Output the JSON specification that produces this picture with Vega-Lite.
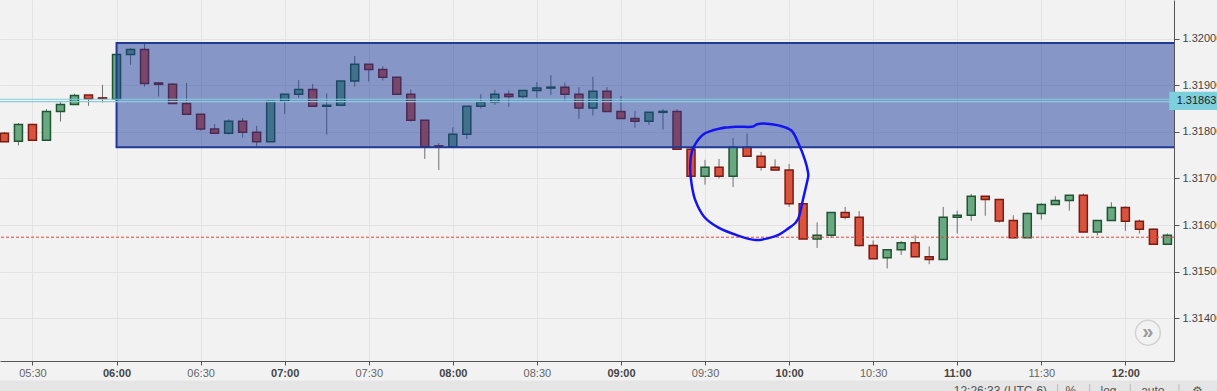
{
  "$schema": "https://vega.github.io/schema/vega-lite/v6.json",
  "width": 1174,
  "height": 361,
  "autosize": {"type": "none"},
  "padding": {"left": 0, "top": 0, "right": 43, "bottom": 30},
  "background": "#f2f2f2",
  "config": {
    "view": {"stroke": null},
    "font": "Liberation Sans",
    "axis": {"gridColor": "#e3e3e3", "gridWidth": 1, "domainColor": "#555555", "tickColor": "#555555", "labelColor": "#555555", "labelFontSize": 11, "title": null}
  },
  "layer": [
    {
      "data": {
        "values": [
          {"t": "2020-01-01T05:20:00Z", "o": 1.31797, "h": 1.31800, "l": 1.31779, "c": 1.31779},
          {"t": "2020-01-01T05:25:00Z", "o": 1.31780, "h": 1.31819, "l": 1.31771, "c": 1.31816},
          {"t": "2020-01-01T05:30:00Z", "o": 1.31816, "h": 1.31816, "l": 1.31782, "c": 1.31782},
          {"t": "2020-01-01T05:35:00Z", "o": 1.31782, "h": 1.31849, "l": 1.31782, "c": 1.31844},
          {"t": "2020-01-01T05:40:00Z", "o": 1.31844, "h": 1.31864, "l": 1.31822, "c": 1.31859},
          {"t": "2020-01-01T05:45:00Z", "o": 1.31859, "h": 1.31882, "l": 1.31859, "c": 1.31878},
          {"t": "2020-01-01T05:50:00Z", "o": 1.31879, "h": 1.31879, "l": 1.31856, "c": 1.31871},
          {"t": "2020-01-01T05:55:00Z", "o": 1.31873, "h": 1.31901, "l": 1.31863, "c": 1.31872},
          {"t": "2020-01-01T06:00:00Z", "o": 1.31870, "h": 1.31966, "l": 1.31870, "c": 1.31966},
          {"t": "2020-01-01T06:05:00Z", "o": 1.31966, "h": 1.31980, "l": 1.31944, "c": 1.31977},
          {"t": "2020-01-01T06:10:00Z", "o": 1.31977, "h": 1.31990, "l": 1.31897, "c": 1.31904},
          {"t": "2020-01-01T06:15:00Z", "o": 1.31905, "h": 1.31907, "l": 1.31876, "c": 1.31902},
          {"t": "2020-01-01T06:20:00Z", "o": 1.31902, "h": 1.31905, "l": 1.31861, "c": 1.31861},
          {"t": "2020-01-01T06:25:00Z", "o": 1.31861, "h": 1.31905, "l": 1.31838, "c": 1.31838},
          {"t": "2020-01-01T06:30:00Z", "o": 1.31838, "h": 1.31838, "l": 1.31803, "c": 1.31806},
          {"t": "2020-01-01T06:35:00Z", "o": 1.31806, "h": 1.31817, "l": 1.31797, "c": 1.31797},
          {"t": "2020-01-01T06:40:00Z", "o": 1.31797, "h": 1.31827, "l": 1.31794, "c": 1.31823},
          {"t": "2020-01-01T06:45:00Z", "o": 1.31823, "h": 1.31830, "l": 1.31788, "c": 1.31799},
          {"t": "2020-01-01T06:50:00Z", "o": 1.31799, "h": 1.31813, "l": 1.31768, "c": 1.31779},
          {"t": "2020-01-01T06:55:00Z", "o": 1.31779, "h": 1.31865, "l": 1.31779, "c": 1.31865},
          {"t": "2020-01-01T07:00:00Z", "o": 1.31866, "h": 1.31881, "l": 1.31838, "c": 1.31881},
          {"t": "2020-01-01T07:05:00Z", "o": 1.31881, "h": 1.31911, "l": 1.31873, "c": 1.31891},
          {"t": "2020-01-01T07:10:00Z", "o": 1.31891, "h": 1.31903, "l": 1.31855, "c": 1.31855},
          {"t": "2020-01-01T07:15:00Z", "o": 1.31855, "h": 1.31883, "l": 1.31794, "c": 1.31857},
          {"t": "2020-01-01T07:20:00Z", "o": 1.31857, "h": 1.31909, "l": 1.31857, "c": 1.31909},
          {"t": "2020-01-01T07:25:00Z", "o": 1.31909, "h": 1.31963, "l": 1.31897, "c": 1.31945},
          {"t": "2020-01-01T07:30:00Z", "o": 1.31945, "h": 1.31945, "l": 1.31908, "c": 1.31934},
          {"t": "2020-01-01T07:35:00Z", "o": 1.31934, "h": 1.31941, "l": 1.31910, "c": 1.31917},
          {"t": "2020-01-01T07:40:00Z", "o": 1.31917, "h": 1.31917, "l": 1.31881, "c": 1.31881},
          {"t": "2020-01-01T07:45:00Z", "o": 1.31881, "h": 1.31891, "l": 1.31822, "c": 1.31825},
          {"t": "2020-01-01T07:50:00Z", "o": 1.31825, "h": 1.31825, "l": 1.31742, "c": 1.31768},
          {"t": "2020-01-01T07:55:00Z", "o": 1.31770, "h": 1.31776, "l": 1.31718, "c": 1.31767},
          {"t": "2020-01-01T08:00:00Z", "o": 1.31768, "h": 1.31810, "l": 1.31768, "c": 1.31795},
          {"t": "2020-01-01T08:05:00Z", "o": 1.31795, "h": 1.31855, "l": 1.31785, "c": 1.31855},
          {"t": "2020-01-01T08:10:00Z", "o": 1.31855, "h": 1.31881, "l": 1.31850, "c": 1.31864},
          {"t": "2020-01-01T08:15:00Z", "o": 1.31864, "h": 1.31890, "l": 1.31858, "c": 1.31881},
          {"t": "2020-01-01T08:20:00Z", "o": 1.31881, "h": 1.31889, "l": 1.31854, "c": 1.31876},
          {"t": "2020-01-01T08:25:00Z", "o": 1.31876, "h": 1.31889, "l": 1.31872, "c": 1.31889},
          {"t": "2020-01-01T08:30:00Z", "o": 1.31889, "h": 1.31907, "l": 1.31873, "c": 1.31894},
          {"t": "2020-01-01T08:35:00Z", "o": 1.31894, "h": 1.31922, "l": 1.31879, "c": 1.31896},
          {"t": "2020-01-01T08:40:00Z", "o": 1.31896, "h": 1.31906, "l": 1.31867, "c": 1.31881},
          {"t": "2020-01-01T08:45:00Z", "o": 1.31881, "h": 1.31896, "l": 1.31828, "c": 1.31851},
          {"t": "2020-01-01T08:50:00Z", "o": 1.31851, "h": 1.31918, "l": 1.31835, "c": 1.31887},
          {"t": "2020-01-01T08:55:00Z", "o": 1.31887, "h": 1.31896, "l": 1.31844, "c": 1.31844},
          {"t": "2020-01-01T09:00:00Z", "o": 1.31844, "h": 1.31877, "l": 1.31829, "c": 1.31829},
          {"t": "2020-01-01T09:05:00Z", "o": 1.31829, "h": 1.31845, "l": 1.31809, "c": 1.31823},
          {"t": "2020-01-01T09:10:00Z", "o": 1.31823, "h": 1.31842, "l": 1.31815, "c": 1.31842},
          {"t": "2020-01-01T09:15:00Z", "o": 1.31842, "h": 1.31849, "l": 1.31805, "c": 1.31844},
          {"t": "2020-01-01T09:20:00Z", "o": 1.31844, "h": 1.31849, "l": 1.31763, "c": 1.31763},
          {"t": "2020-01-01T09:25:00Z", "o": 1.31763, "h": 1.31768, "l": 1.31705, "c": 1.31705},
          {"t": "2020-01-01T09:30:00Z", "o": 1.31705, "h": 1.31740, "l": 1.31687, "c": 1.31724},
          {"t": "2020-01-01T09:35:00Z", "o": 1.31724, "h": 1.31742, "l": 1.31700, "c": 1.31705},
          {"t": "2020-01-01T09:40:00Z", "o": 1.31705, "h": 1.31787, "l": 1.31682, "c": 1.31767},
          {"t": "2020-01-01T09:45:00Z", "o": 1.31767, "h": 1.31797, "l": 1.31748, "c": 1.31748},
          {"t": "2020-01-01T09:50:00Z", "o": 1.31748, "h": 1.31757, "l": 1.31717, "c": 1.31724},
          {"t": "2020-01-01T09:55:00Z", "o": 1.31724, "h": 1.31741, "l": 1.31718, "c": 1.31718},
          {"t": "2020-01-01T10:00:00Z", "o": 1.31718, "h": 1.31731, "l": 1.31639, "c": 1.31646},
          {"t": "2020-01-01T10:05:00Z", "o": 1.31646, "h": 1.31646, "l": 1.31570, "c": 1.31570},
          {"t": "2020-01-01T10:10:00Z", "o": 1.31570, "h": 1.31606, "l": 1.31551, "c": 1.31578},
          {"t": "2020-01-01T10:15:00Z", "o": 1.31578, "h": 1.31627, "l": 1.31572, "c": 1.31627},
          {"t": "2020-01-01T10:20:00Z", "o": 1.31627, "h": 1.31639, "l": 1.31612, "c": 1.31617},
          {"t": "2020-01-01T10:25:00Z", "o": 1.31617, "h": 1.31630, "l": 1.31554, "c": 1.31556},
          {"t": "2020-01-01T10:30:00Z", "o": 1.31556, "h": 1.31567, "l": 1.31528, "c": 1.31528},
          {"t": "2020-01-01T10:35:00Z", "o": 1.31530, "h": 1.31547, "l": 1.31507, "c": 1.31547},
          {"t": "2020-01-01T10:40:00Z", "o": 1.31547, "h": 1.31566, "l": 1.31536, "c": 1.31562},
          {"t": "2020-01-01T10:45:00Z", "o": 1.31562, "h": 1.31578, "l": 1.31532, "c": 1.31532},
          {"t": "2020-01-01T10:50:00Z", "o": 1.31532, "h": 1.31554, "l": 1.31516, "c": 1.31526},
          {"t": "2020-01-01T10:55:00Z", "o": 1.31526, "h": 1.31639, "l": 1.31526, "c": 1.31617},
          {"t": "2020-01-01T11:00:00Z", "o": 1.31617, "h": 1.31631, "l": 1.31582, "c": 1.31621},
          {"t": "2020-01-01T11:05:00Z", "o": 1.31621, "h": 1.31667, "l": 1.31609, "c": 1.31662},
          {"t": "2020-01-01T11:10:00Z", "o": 1.31662, "h": 1.31662, "l": 1.31620, "c": 1.31655},
          {"t": "2020-01-01T11:15:00Z", "o": 1.31655, "h": 1.31655, "l": 1.31605, "c": 1.31609},
          {"t": "2020-01-01T11:20:00Z", "o": 1.31610, "h": 1.31621, "l": 1.31571, "c": 1.31573},
          {"t": "2020-01-01T11:25:00Z", "o": 1.31573, "h": 1.31627, "l": 1.31573, "c": 1.31625},
          {"t": "2020-01-01T11:30:00Z", "o": 1.31625, "h": 1.31647, "l": 1.31612, "c": 1.31644},
          {"t": "2020-01-01T11:35:00Z", "o": 1.31644, "h": 1.31662, "l": 1.31644, "c": 1.31653},
          {"t": "2020-01-01T11:40:00Z", "o": 1.31653, "h": 1.31664, "l": 1.31631, "c": 1.31664},
          {"t": "2020-01-01T11:45:00Z", "o": 1.31664, "h": 1.31668, "l": 1.31585, "c": 1.31585},
          {"t": "2020-01-01T11:50:00Z", "o": 1.31585, "h": 1.31610, "l": 1.31578, "c": 1.31610},
          {"t": "2020-01-01T11:55:00Z", "o": 1.31610, "h": 1.31649, "l": 1.31610, "c": 1.31638},
          {"t": "2020-01-01T12:00:00Z", "o": 1.31638, "h": 1.31640, "l": 1.31588, "c": 1.31608},
          {"t": "2020-01-01T12:05:00Z", "o": 1.31608, "h": 1.31612, "l": 1.31582, "c": 1.31591},
          {"t": "2020-01-01T12:10:00Z", "o": 1.31591, "h": 1.31593, "l": 1.31559, "c": 1.31559},
          {"t": "2020-01-01T12:15:00Z", "o": 1.31559, "h": 1.31582, "l": 1.31559, "c": 1.31578}
        ]
      },
      "encoding": {
        "x": {
          "field": "t",
          "type": "temporal",
          "scale": {
            "type": "utc",
            "nice": false,
            "domain": [
              {"year": 2020, "month": 1, "date": 1, "hours": 5, "minutes": 20, "seconds": 12, "utc": true},
              {"year": 2020, "month": 1, "date": 1, "hours": 12, "minutes": 15, "seconds": 34, "utc": true}
            ]
          },
          "axis": {
            "orient": "bottom",
            "format": "%H:%M",
            "values": [
              {"year": 2020, "month": 1, "date": 1, "hours": 5, "minutes": 30, "utc": true},
              {"year": 2020, "month": 1, "date": 1, "hours": 6, "minutes": 0, "utc": true},
              {"year": 2020, "month": 1, "date": 1, "hours": 6, "minutes": 30, "utc": true},
              {"year": 2020, "month": 1, "date": 1, "hours": 7, "minutes": 0, "utc": true},
              {"year": 2020, "month": 1, "date": 1, "hours": 7, "minutes": 30, "utc": true},
              {"year": 2020, "month": 1, "date": 1, "hours": 8, "minutes": 0, "utc": true},
              {"year": 2020, "month": 1, "date": 1, "hours": 8, "minutes": 30, "utc": true},
              {"year": 2020, "month": 1, "date": 1, "hours": 9, "minutes": 0, "utc": true},
              {"year": 2020, "month": 1, "date": 1, "hours": 9, "minutes": 30, "utc": true},
              {"year": 2020, "month": 1, "date": 1, "hours": 10, "minutes": 0, "utc": true},
              {"year": 2020, "month": 1, "date": 1, "hours": 10, "minutes": 30, "utc": true},
              {"year": 2020, "month": 1, "date": 1, "hours": 11, "minutes": 0, "utc": true},
              {"year": 2020, "month": 1, "date": 1, "hours": 11, "minutes": 30, "utc": true},
              {"year": 2020, "month": 1, "date": 1, "hours": 12, "minutes": 0, "utc": true}
            ],
            "tickSize": 4,
            "labelPadding": 2,
            "labelFontSize": 11,
            "labelOverlap": false,
            "labelFlush": false,
            "labelFontWeight": {"condition": {"test": "utcminutes(datum.value) == 0", "value": "bold"}, "value": "normal"},
            "labelColor": {"condition": {"test": "utcminutes(datum.value) == 0", "value": "#444444"}, "value": "#666666"},
            "grid": true,
            "title": null
          }
        }
      },
      "layer": [
        {
          "mark": {"type": "rule", "color": "#707070", "strokeWidth": 1, "clip": true},
          "encoding": {
            "y": {
              "field": "l",
              "type": "quantitative",
              "scale": {"domain": [1.313084, 1.32083], "zero": false, "nice": false},
              "axis": {
                "orient": "right",
                "values": [1.314, 1.315, 1.316, 1.317, 1.318, 1.319, 1.32],
                "format": ".5f",
                "tickSize": 5,
                "labelPadding": 3,
                "labelFontSize": 11,
                "labelColor": "#444444",
                "grid": true,
                "title": null
              }
            },
            "y2": {"field": "h"}
          }
        },
        {
          "mark": {"type": "bar", "size": 8, "strokeWidth": 1.5, "clip": true},
          "encoding": {
            "y": {"field": "o", "type": "quantitative"},
            "y2": {"field": "c"},
            "fill": {"condition": {"test": "datum.c >= datum.o", "value": "#6aa882"}, "value": "#d9533f"},
            "stroke": {"condition": {"test": "datum.c >= datum.o", "value": "#1e5631"}, "value": "#7a1c12"}
          }
        }
      ]
    },
    {
      "data": {"values": [{"p": 1.31574}]},
      "mark": {"type": "rule", "color": "#e0463a", "strokeDash": [3, 2], "strokeWidth": 1},
      "encoding": {"y": {"field": "p", "type": "quantitative"}}
    },
    {
      "data": {"values": [{"t": "2020-01-01T06:00:00Z", "t2": "2020-01-01T12:40:00Z", "top": 1.31991, "bot": 1.31767}]},
      "mark": {"type": "rect", "fill": "#1a3a9a", "fillOpacity": 0.5, "stroke": "#1f3a93", "strokeWidth": 2, "clip": true},
      "encoding": {
        "x": {"field": "t", "type": "temporal"},
        "x2": {"field": "t2"},
        "y": {"field": "top", "type": "quantitative"},
        "y2": {"field": "bot"}
      }
    },
    {
      "data": {"values": [{"p": 1.31870}, {"p": 1.31865}]},
      "mark": {"type": "rule", "color": "#86cde0", "strokeWidth": 1.2},
      "encoding": {"y": {"field": "p", "type": "quantitative"}}
    },
    {
      "data": {
        "values": [
          {"i": 1, "t": "2020-01-01T09:36:02Z", "p": 1.31808},
          {"i": 2, "t": "2020-01-01T09:40:54Z", "p": 1.31811},
          {"i": 3, "t": "2020-01-01T09:46:38Z", "p": 1.31811},
          {"i": 4, "t": "2020-01-01T09:48:25Z", "p": 1.31816},
          {"i": 5, "t": "2020-01-01T09:50:54Z", "p": 1.31818},
          {"i": 6, "t": "2020-01-01T09:56:12Z", "p": 1.31814},
          {"i": 7, "t": "2020-01-01T10:00:48Z", "p": 1.31803},
          {"i": 8, "t": "2020-01-01T10:03:17Z", "p": 1.31776},
          {"i": 9, "t": "2020-01-01T10:05:39Z", "p": 1.31740},
          {"i": 10, "t": "2020-01-01T10:06:49Z", "p": 1.31711},
          {"i": 11, "t": "2020-01-01T10:06:34Z", "p": 1.31697},
          {"i": 12, "t": "2020-01-01T10:05:02Z", "p": 1.31657},
          {"i": 13, "t": "2020-01-01T10:03:32Z", "p": 1.31618},
          {"i": 14, "t": "2020-01-01T10:02:07Z", "p": 1.31604},
          {"i": 15, "t": "2020-01-01T09:59:44Z", "p": 1.31593},
          {"i": 16, "t": "2020-01-01T09:56:12Z", "p": 1.31579},
          {"i": 17, "t": "2020-01-01T09:52:40Z", "p": 1.31572},
          {"i": 18, "t": "2020-01-01T09:47:57Z", "p": 1.31568},
          {"i": 19, "t": "2020-01-01T09:42:03Z", "p": 1.31577},
          {"i": 20, "t": "2020-01-01T09:34:58Z", "p": 1.31594},
          {"i": 21, "t": "2020-01-01T09:29:40Z", "p": 1.31618},
          {"i": 22, "t": "2020-01-01T09:26:29Z", "p": 1.31654},
          {"i": 23, "t": "2020-01-01T09:25:10Z", "p": 1.31690},
          {"i": 24, "t": "2020-01-01T09:24:42Z", "p": 1.31725},
          {"i": 25, "t": "2020-01-01T09:25:31Z", "p": 1.31761},
          {"i": 26, "t": "2020-01-01T09:29:04Z", "p": 1.31793},
          {"i": 27, "t": "2020-01-01T09:33:12Z", "p": 1.31804},
          {"i": 28, "t": "2020-01-01T09:37:30Z", "p": 1.31810}
        ]
      },
      "mark": {"type": "line", "color": "#1414f0", "strokeWidth": 2.5, "interpolate": "cardinal", "clip": true},
      "encoding": {
        "x": {"field": "t", "type": "temporal"},
        "y": {"field": "p", "type": "quantitative"},
        "order": {"field": "i", "type": "quantitative"}
      }
    },
    {
      "data": {"values": [{"t": "2020-01-01T12:08:02Z", "p": 1.31369, "label": "»"}]},
      "encoding": {
        "x": {"field": "t", "type": "temporal"},
        "y": {"field": "p", "type": "quantitative"}
      },
      "layer": [
        {"mark": {"type": "point", "shape": "circle", "filled": true, "fill": "#f2f2f2", "stroke": "#d2d2d2", "strokeWidth": 1.5, "size": 616, "opacity": 1}},
        {"mark": {"type": "text", "fontSize": 20, "fontWeight": "bold", "color": "#9a9a9a", "baseline": "middle", "align": "center", "dy": -1}, "encoding": {"text": {"field": "label"}}}
      ]
    },
    {
      "data": {"values": [{"t": "2020-01-01T12:15:40Z", "t2": "2020-01-01T12:40:00Z", "top": 1.31886, "bot": 1.31847}]},
      "mark": {"type": "rect", "fill": "#7ecfdc", "clip": false},
      "encoding": {
        "x": {"field": "t", "type": "temporal"},
        "x2": {"field": "t2"},
        "y": {"field": "top", "type": "quantitative"},
        "y2": {"field": "bot"}
      }
    },
    {
      "data": {"values": [{"t": "2020-01-01T12:18:18Z", "p": 1.31867, "label": "1.31863"}]},
      "mark": {"type": "text", "fontSize": 11, "color": "#222222", "align": "left", "baseline": "middle", "clip": false},
      "encoding": {
        "x": {"field": "t", "type": "temporal"},
        "y": {"field": "p", "type": "quantitative"},
        "text": {"field": "label"}
      }
    },
    {
      "data": {"values": [{"t": "2020-01-01T05:00:00Z", "t2": "2020-01-01T12:45:00Z", "top": 1.312665, "bot": 1.312247}]},
      "mark": {"type": "rect", "fill": "#e5e5e5", "clip": false},
      "encoding": {
        "x": {"field": "t", "type": "temporal"},
        "x2": {"field": "t2"},
        "y": {"field": "top", "type": "quantitative"},
        "y2": {"field": "bot"}
      }
    },
    {
      "data": {
        "values": [
          {"t": "2020-01-01T11:35:50Z", "top": 1.31259, "bot": 1.31224},
          {"t": "2020-01-01T11:47:16Z", "top": 1.31259, "bot": 1.31224},
          {"t": "2020-01-01T12:01:46Z", "top": 1.31259, "bot": 1.31224},
          {"t": "2020-01-01T12:19:07Z", "top": 1.31259, "bot": 1.31224}
        ]
      },
      "mark": {"type": "rule", "color": "#bbbbbb", "strokeWidth": 1, "clip": false},
      "encoding": {
        "x": {"field": "t", "type": "temporal"},
        "y": {"field": "top", "type": "quantitative"},
        "y2": {"field": "bot"}
      }
    },
    {
      "data": {
        "values": [
          {"t": "2020-01-01T11:15:24Z", "p": 1.31244, "label": "12:26:33 (UTC-6)"},
          {"t": "2020-01-01T11:40:32Z", "p": 1.31244, "label": "%"},
          {"t": "2020-01-01T11:53:59Z", "p": 1.31244, "label": "log"},
          {"t": "2020-01-01T12:09:48Z", "p": 1.31244, "label": "auto"},
          {"t": "2020-01-01T12:25:51Z", "p": 1.31244, "label": "⚙"}
        ]
      },
      "mark": {"type": "text", "fontSize": 12, "color": "#555555", "align": "center", "baseline": "middle", "clip": false},
      "encoding": {
        "x": {"field": "t", "type": "temporal"},
        "y": {"field": "p", "type": "quantitative"},
        "text": {"field": "label"}
      }
    }
  ]
}
